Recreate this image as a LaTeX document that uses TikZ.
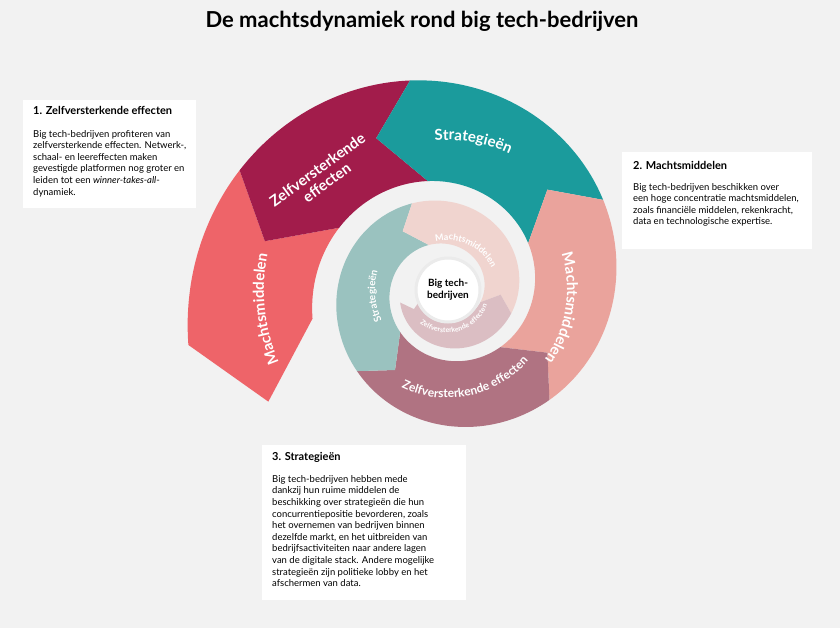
\documentclass[tikz,border=0pt]{standalone}
\usepackage{fontspec}
\setmainfont{Lato}
\usetikzlibrary{decorations.text}
\definecolor{bg}{HTML}{F2F2F2}
\definecolor{cred}{HTML}{EE6469}
\definecolor{ccrim}{HTML}{A21C4B}
\definecolor{cteal}{HTML}{1B9B9C}
\definecolor{cpink}{HTML}{EAA39C}
\definecolor{cmauve}{HTML}{B07382}
\definecolor{csage}{HTML}{9AC2BF}
\definecolor{clpink}{HTML}{F0D4CF}
\definecolor{csmauve}{HTML}{DBBEC3}
\newcommand\spseg[4]{%
 \fill[#1] plot[domain=#2:#3,samples=50] ({447+R(\x)*cos(180-\x)},{290-R(\x)*sin(180-\x)})
 -- ({447+0.76*R(#3-15)*cos(180-(#3-15))},{290-0.76*R(#3-15)*sin(180-(#3-15))})
 -- plot[domain=#3:#2,samples=50] ({447+0.52*R(\x)*cos(180-\x)},{290-0.52*R(\x)*sin(180-\x)})
 -- ({447+0.76*R(#2-#4)*cos(180-(#2-#4))},{290-0.76*R(#2-#4)*sin(180-(#2-#4))}) -- cycle;}
\newcommand\arclabel[5]{% size, radius, from, to, text
 \path[decorate,decoration={text along path,text align=center,
   text={|\fontsize{#1}{#1}\selectfont\bfseries\color{white}|#5}}]
   plot[domain=#3:#4,samples=60] ({447+#2*cos(180-\x)},{290-#2*sin(180-\x)});}
\begin{document}
\begin{tikzpicture}[x=1pt,y=-1pt,
  declare function={R(\t)=257*exp(-0.00236*\t);},
  infobox/.style={fill=white,draw=none},
  boxtitle/.style={anchor=north west,inner sep=0pt,font=\fontsize{11}{13}\selectfont\bfseries},
  boxbody/.style={anchor=north west,inner sep=0pt,align=left,font=\fontsize{9.5}{11.6}\selectfont}]
\fill[bg] (0,0) rectangle (840,628);
\useasboundingbox (0,0) rectangle (840,628);
\node[font=\fontsize{22}{22}\selectfont\bfseries] (title) at (422,21) {De machtsdynamiek rond big tech-bedrijven};
% spiral
\spseg{cred}{-12}{30}{20}
\spseg{ccrim}{30}{80}{15}
\spseg{cteal}{80}{150}{15}
\spseg{cpink}{150}{227}{15}
\spseg{cmauve}{227}{318}{15}
\spseg{csage}{318}{428}{15}
\spseg{clpink}{428}{560}{15}
\spseg{csmauve}{560}{705}{15}
\fill[white,draw=black!8,line width=3pt] (448,290) circle (32);
\node[font=\fontsize{10}{12}\selectfont\bfseries,align=center] (core) at (448,290) {Big tech-\\bedrijven};
% labels
\arclabel{15}{183}{-50}{38}{Machtsmiddelen}
\node[font=\fontsize{15}{16}\selectfont\bfseries,text=white,align=center,rotate=36] (zlab) at (322,176) {Zelfversterkende\\effecten};
\arclabel{15}{150}{60}{140}{Strategieën}
\arclabel{15}{120}{150}{228}{Machtsmiddelen}
\arclabel{12}{108}{320}{196}{Zelfversterkende effecten}
\arclabel{10}{72}{310}{400}{Strategieën}
\arclabel{9}{50}{420}{530}{Machtsmiddelen}
\arclabel{7}{43}{690}{540}{Zelfversterkende effecten}
% boxes
\fill[infobox] (23,100) rectangle (196,208);
\node[boxtitle] (t1) at (33,106) {1. Zelfversterkende effecten};
\node[boxbody] (b1) at (33,130) {Big tech-bedrijven profiteren van\\zelfversterkende effecten. Netwerk-,\\schaal- en leereffecten maken\\gevestigde platformen nog groter en\\leiden tot een \textit{winner-takes-all}-\\dynamiek.};
\fill[infobox] (622,152) rectangle (812,249);
\node[boxtitle] (t2) at (633,161) {2. Machtsmiddelen};
\node[boxbody] (b2) at (633,183) {Big tech-bedrijven beschikken over\\een hoge concentratie machtsmiddelen,\\zoals financiële middelen, rekenkracht,\\data en technologische expertise.};
\fill[infobox] (262,445) rectangle (466,600);
\node[boxtitle] (t3) at (272,452) {3. Strategieën};
\node[boxbody] (b3) at (272,475) {Big tech-bedrijven hebben mede\\dankzij hun ruime middelen de\\beschikking over strategieën die hun\\concurrentiepositie bevorderen, zoals\\het overnemen van bedrijven binnen\\dezelfde markt, en het uitbreiden van\\bedrijfsactiviteiten naar andere lagen\\van de digitale stack. Andere mogelijke\\strategieën zijn politieke lobby en het\\afschermen van data.};
\end{tikzpicture}
\end{document}
